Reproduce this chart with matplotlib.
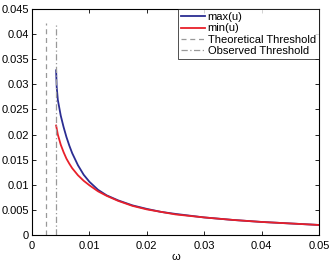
import matplotlib
import numpy as np
import matplotlib.pyplot as plt

matplotlib.use("Agg")

# omega values and the two curves
omega = [0.0042, 0.0043, 0.0045, 0.0050, 0.0055, 0.0060, 0.0065, 0.0070, 0.0080, 0.0090,
         0.0100, 0.0115, 0.0130, 0.0150, 0.0175, 0.0200, 0.0225, 0.0250, 0.0300, 0.0350,
         0.0400, 0.0450, 0.0500]
max_u = [0.0328, 0.0295, 0.0269, 0.0238, 0.0215, 0.0195, 0.0178, 0.0163, 0.0139, 0.0120,
         0.0106, 0.0090, 0.0079, 0.0069, 0.0059, 0.0052, 0.0046, 0.0042, 0.0035, 0.0030,
         0.0026, 0.0023, 0.0020]
min_u = [0.0218, 0.0212, 0.0200, 0.0180, 0.0165, 0.0152, 0.0142, 0.0133, 0.0119, 0.0108,
         0.0099, 0.0087, 0.0078, 0.0068, 0.0058, 0.0051, 0.0046, 0.0041, 0.0035, 0.0030,
         0.0026, 0.0023, 0.0020]

theoretical_threshold = 0.00244
observed_threshold = 0.0042
threshold_top = 0.0423

plt.rcParams['font.family'] = ['Liberation Sans', 'DejaVu Sans']
plt.rcParams['font.size'] = 8

fig = plt.figure(figsize=(3.32, 2.64), dpi=100)
ax = fig.add_axes([0.0964, 0.1098, 0.8646, 0.8561])

ax.plot(omega, max_u, color="#2b2d92", lw=1.3, label="max(u)")
ax.plot(omega, min_u, color="#e8202a", lw=1.3, label="min(u)")
ax.plot([theoretical_threshold, theoretical_threshold], [0, threshold_top], color="#999999",
        lw=0.9, ls=(0, (4, 3)), label="Theoretical Threshold")
ax.plot([observed_threshold, observed_threshold], [0, threshold_top], color="#999999",
        lw=0.9, ls=(0, (5, 2, 1, 2)), label="Observed Threshold")

ax.set_xlim(0, 0.05)
ax.set_ylim(0, 0.045)
ax.set_xticks(np.arange(0, 0.0501, 0.01))
ax.set_xticklabels(["0", "0.01", "0.02", "0.03", "0.04", "0.05"])
ax.set_yticks(np.arange(0, 0.0451, 0.005))
ax.set_yticklabels(["0", "0.005", "0.01", "0.015", "0.02", "0.025", "0.03", "0.035", "0.04", "0.045"])
ax.tick_params(direction="in", length=3, width=0.6, top=True, right=True, pad=2)
ax.tick_params(axis="x", pad=4)
for s in ax.spines.values():
    s.set_linewidth(0.8)
ax.set_xlabel("ω", labelpad=1)

leg = ax.legend(loc="upper right", frameon=True, fancybox=False, handlelength=2.2,
                handletextpad=0.2, borderpad=0.3, labelspacing=0.1, borderaxespad=0.0,
                fontsize=8)
leg.get_frame().set_edgecolor("black")
leg.get_frame().set_linewidth(0.6)

fig.savefig("out.png", dpi=100)
